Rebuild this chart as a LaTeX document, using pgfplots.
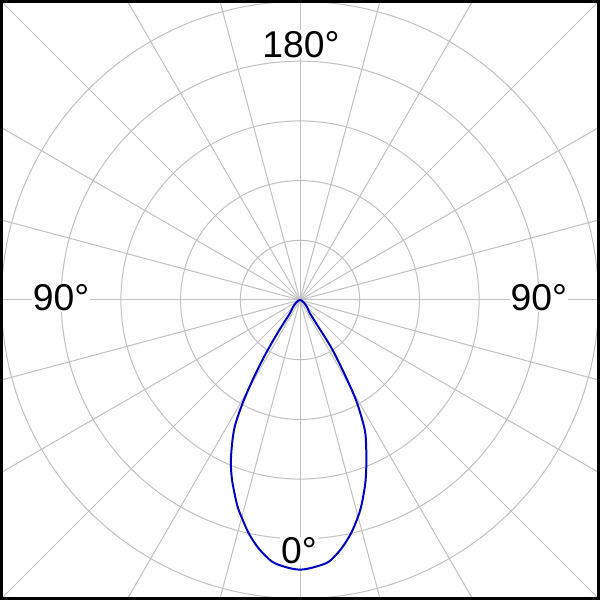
\documentclass[border=0pt]{standalone}
\usepackage{pgfplots}
\pgfplotsset{compat=1.18}
\usepackage{pgfplotstable}
\usepackage{fontspec}
\setmainfont{Liberation Sans}
\definecolor{gridgray}{RGB}{192,192,192}
\definecolor{curveblue}{RGB}{0,0,190}
\pgfplotstableread{
a r
-90 0
-70 2
-55 5
-45 10
-40 13
-36.5 19
-34.4 38.4
-32.47 65.2
-30.8 91
-29.1 118.2
-27.33 142.6
-25.03 161.9
-22.84 179.0
-20.38 195.2
-16.95 216.1
-14.77 227.5
-12.31 240.5
-9.38 253.4
-6.08 264.5
-2.98 268.9
0 271
2.98 268.9
6.29 264.6
9.42 253.4
12.24 240.5
14.65 227.4
16.62 215.7
19.5 196.3
21.8 179.5
24.19 162.3
26.57 145.3
29.14 116.4
30.96 87.5
33.27 57.8
34.4 32.3
36.5 17
40 13
45 10
55 5
70 2
90 0
}\curve
\begin{document}
\begin{tikzpicture}
\begin{axis}[
  scale only axis, width=600pt, height=600pt,
  xmin=-300, xmax=300, ymin=-300, ymax=300,
  xtick=\empty, ytick=\empty,
  axis line style={black, line width=3pt},
  axis on top=true,
  clip=true,
]
\pgfplotsinvokeforeach{0,15,...,345}{
  \draw[gridgray, line width=1pt] (axis cs:0,0) -- (axis cs:{500*cos(#1)},{500*sin(#1)});
}
\pgfplotsinvokeforeach{60,120,180,240,300}{
  \draw[gridgray, line width=1pt] (axis cs:0,0) circle[radius=#1];
}
\node[fill=white, inner sep=1pt, font=\fontsize{37.5}{40}\selectfont] at (axis cs:1,257) {180°};
\node[fill=white, inner sep=1pt, font=\fontsize{37.5}{40}\selectfont] at (axis cs:-240,2) {90°};
\node[fill=white, inner sep=1pt, font=\fontsize{37.5}{40}\selectfont] at (axis cs:240,2) {90°};
\node[fill=white, inner sep=1pt, font=\fontsize{37.5}{40}\selectfont] at (axis cs:-1,-252) {0°};
\addplot[curveblue, line width=2pt, smooth, tension=0.5] table[x expr={\thisrow{r}*sin(\thisrow{a})}, y expr={-\thisrow{r}*cos(\thisrow{a})}] {\curve};
\end{axis}
\end{tikzpicture}
\end{document}
